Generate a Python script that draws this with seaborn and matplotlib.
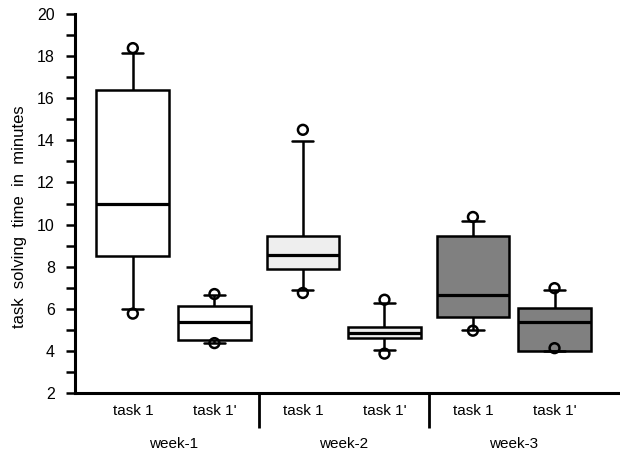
import matplotlib
matplotlib.use("Agg")
import matplotlib.pyplot as plt
import matplotlib.transforms as mtransforms
import numpy as np
import pandas as pd
import seaborn as sns

# box statistics, order: week-1 (task 1, task 1'), week-2 (...), week-3 (...)
weeks = ["week-1", "week-2", "week-3"]
tasks = ["task 1", "task 1'"]
week_colors = ["#ffffff", "#eeeeee", "#808080"]
whisker_low = [6.0, 4.38, 6.90, 4.03, 4.98, 4.0]
q1 = [8.52, 4.50, 7.90, 4.62, 5.63, 4.0]
median = [10.96, 5.39, 8.55, 4.86, 6.65, 5.39]
q3 = [16.40, 6.15, 9.44, 5.15, 9.44, 6.02]
whisker_high = [18.15, 6.64, 13.98, 6.28, 10.19, 6.90]
circle_low = [5.77, 4.37, 6.75, 3.87, 4.96, 4.13]
circle_high = [18.38, 6.70, 14.50, 6.43, 10.36, 6.98]

sns.set_style("white")
plt.rcParams["font.family"] = ["Liberation Sans", "DejaVu Sans"]
plt.rcParams.update({"text.color": "black", "axes.labelcolor": "black",
                     "xtick.color": "black", "ytick.color": "black"})

task_offset = 0.24
week_idx = np.repeat(np.arange(len(weeks)), len(tasks))
pos = week_idx + np.tile([-task_offset, task_offset], len(weeks))
week_of_box = [weeks[i] for i in week_idx]
task_of_box = tasks * len(weeks)

# five values per box -> quartiles land exactly on q1/median/q3, whis=(0, 100) spans min..max
rows = []
for k in range(len(pos)):
    for v in (whisker_low[k], q1[k], median[k], q3[k], whisker_high[k]):
        rows.append({"pos": pos[k], "week": week_of_box[k], "time": v})
df = pd.DataFrame(rows)

circles = pd.DataFrame({
    "pos": np.concatenate([pos, pos]),
    "time": circle_low + circle_high,
})

fig = plt.figure(figsize=(6.2, 4.54), dpi=100)
ax = fig.add_axes([75 / 620, 61 / 454, 545 / 620, 379 / 454])

sns.boxplot(
    data=df, x="pos", y="time", hue="week", hue_order=weeks,
    palette=dict(zip(weeks, week_colors)), native_scale=True, dodge=False,
    orient="x", width=0.89, whis=(0, 100), linecolor="black", linewidth=1.8,
    medianprops={"linewidth": 2.3}, capwidths=0.125, legend=False, ax=ax,
)
sns.scatterplot(
    data=circles, x="pos", y="time", marker="o", s=50, color="black",
    linewidth=1.8, zorder=5, legend=False, ax=ax,
)
ax.collections[-1].set_facecolor("none")
ax.collections[-1].set_edgecolor("black")

ax.set_xlim(-0.58, 2.625)
ax.set_ylim(2, 20)
ax.set_yticks(np.arange(2, 21, 2))
ax.set_yticks(np.arange(3, 20, 2), minor=True)
ax.set_xticks(pos, task_of_box)
ax.tick_params(axis="x", length=0, pad=8, labelsize=11)
ax.tick_params(axis="y", which="both", direction="out", length=6.5, width=1.8,
               left=True, pad=8, labelsize=11.5)
ax.set_xlabel("")
ax.set_ylabel("task  solving  time  in  minutes", fontsize=12)
ax.yaxis.set_label_coords(-0.088, 0.465)

for side in ("top", "right"):
    ax.spines[side].set_visible(False)
for side in ("left", "bottom"):
    ax.spines[side].set_linewidth(2.2)
    ax.spines[side].set_color("black")

trans = mtransforms.blended_transform_factory(ax.transData, ax.transAxes)
for sep in (0.5, 1.5):
    ax.plot([sep, sep], [0, -0.093], transform=trans, color="black",
            lw=2.0, clip_on=False, solid_capstyle="butt")
for i, w in enumerate(weeks):
    ax.text(i, -0.134, w, transform=trans, ha="center", va="center", fontsize=11)

fig.savefig("out.png", dpi=100)
